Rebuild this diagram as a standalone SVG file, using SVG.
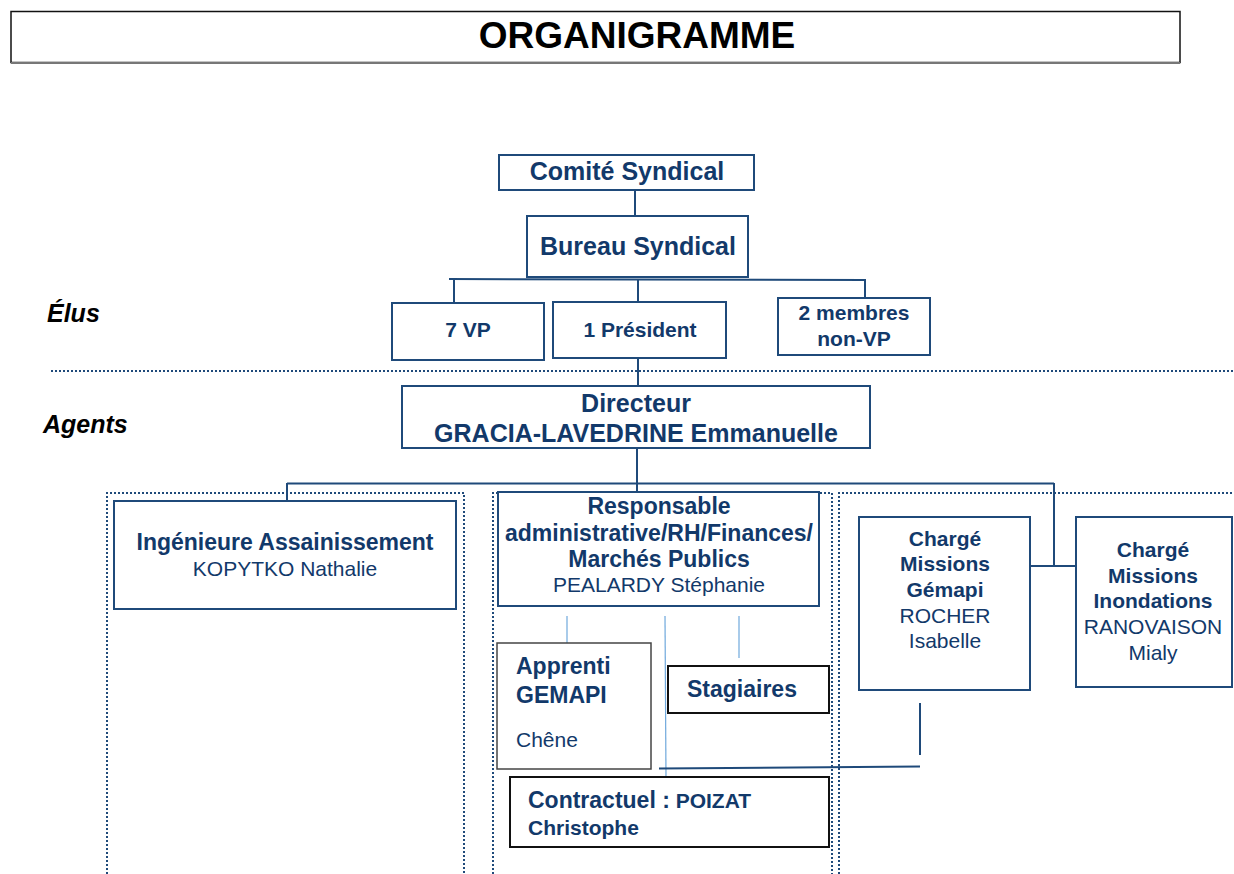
<svg xmlns="http://www.w3.org/2000/svg" width="1234" height="874" viewBox="0 0 1234 874">
<defs>
<style>
text{font-family:"Liberation Sans",Arial,sans-serif;fill:#12396a}
.b{font-weight:bold}
.c{text-anchor:middle}
.box{fill:#fff;stroke:#1f4a7a;stroke-width:2}
.blk{fill:#fff;stroke:#111;stroke-width:2}
.gry{fill:#fff;stroke:#444;stroke-width:1.5}
.ln{stroke:#1f4a7a;stroke-width:2;fill:none}
.lb{stroke:#6fa8dc;stroke-width:1.2;fill:none}
.dot{stroke:#1f4a7a;stroke-width:2;stroke-dasharray:2 2;fill:none}
.lbl{font-weight:bold;font-style:italic;fill:#000;font-size:25px}
</style>
</defs>
<rect width="1234" height="874" fill="#fff"/>
<g id="title">
<rect x="11" y="11.5" width="1169" height="51" fill="#fff" stroke="#111" stroke-width="1.5"/>
<line x1="11" y1="63" x2="1180" y2="63" stroke="#777" stroke-width="2"/>
<text x="637" y="48" class="b c" style="fill:#000;font-size:37px">ORGANIGRAMME</text>
</g>
<g id="labels">
<text x="47" y="322" class="lbl">Élus</text>
<text x="43" y="433" class="lbl">Agents</text>
<line x1="51" y1="371" x2="1234" y2="371" class="dot"/>
</g>
<g id="frames">
<path d="M107 874V493H464V874" class="dot"/>
<path d="M493 874V493H832V874" class="dot"/>
<path d="M839 874V493H1234" class="dot"/>
</g>
<g id="connectors">
<line x1="635" y1="190" x2="635" y2="216" class="ln"/>
<line x1="449" y1="279" x2="865" y2="280" class="ln"/>
<line x1="454" y1="280" x2="454" y2="303" class="ln"/>
<line x1="638" y1="280" x2="638" y2="302" class="ln"/>
<line x1="865" y1="279" x2="865" y2="298" class="ln"/>
<line x1="638" y1="359" x2="638" y2="386" class="ln"/>
<line x1="637" y1="448" x2="637" y2="492" class="ln"/>
<line x1="287" y1="483.5" x2="1054" y2="483.5" class="ln"/>
<line x1="287" y1="483" x2="287" y2="501" class="ln"/>
<line x1="1054" y1="483" x2="1054" y2="566" class="ln"/>
<line x1="1030" y1="566" x2="1076" y2="566" class="ln"/>
<line x1="567" y1="616" x2="567" y2="658" class="lb"/>
<line x1="665" y1="616" x2="666" y2="777" class="lb"/>
<line x1="739" y1="616" x2="739" y2="658" class="lb"/>
<line x1="659" y1="768.5" x2="920" y2="766.5" class="ln"/>
<line x1="920" y1="703" x2="920" y2="755" class="ln"/>
</g>
<g id="comite">
<rect x="499" y="155" width="255" height="35" class="box"/>
<text x="627" y="180" class="b c" style="font-size:25px">Comité Syndical</text>
</g>
<g id="bureau">
<rect x="527" y="216" width="221" height="61" class="box"/>
<text x="638" y="255" class="b c" style="font-size:25px">Bureau Syndical</text>
</g>
<g id="vp">
<rect x="392" y="303" width="152" height="57" class="box"/>
<text x="468" y="337" class="b c" style="font-size:21px">7 VP</text>
</g>
<g id="president">
<rect x="553" y="302" width="173" height="56" class="box"/>
<text x="640" y="337" class="b c" style="font-size:21px">1 Président</text>
</g>
<g id="membres">
<rect x="778" y="298" width="152" height="57" class="box"/>
<text x="854" y="320" class="b c" style="font-size:21px">2 membres</text>
<text x="854" y="346" class="b c" style="font-size:21px">non-VP</text>
</g>
<g id="directeur">
<rect x="402" y="386" width="468" height="62" class="box"/>
<text x="636" y="412" class="b c" style="font-size:25px">Directeur</text>
<text x="636" y="442" class="b c" style="font-size:25px">GRACIA-LAVEDRINE Emmanuelle</text>
</g>
<g id="ingenieure">
<rect x="114" y="501" width="342" height="108" class="box"/>
<text x="285" y="550" class="b c" style="font-size:23px">Ingénieure Assainissement</text>
<text x="285" y="576" class="c" style="font-size:21px">KOPYTKO Nathalie</text>
</g>
<g id="responsable">
<rect x="498" y="492" width="321" height="114" class="box"/>
<text x="659" y="514" class="b c" style="font-size:23px">Responsable</text>
<text x="659" y="541" class="b c" style="font-size:23px">administrative/RH/Finances/</text>
<text x="659" y="567" class="b c" style="font-size:23px">Marchés Publics</text>
<text x="659" y="592" class="c" style="font-size:21px">PEALARDY Stéphanie</text>
</g>
<g id="gemapi">
<rect x="859" y="517" width="171" height="173" class="box"/>
<text x="945" y="546" class="b c" style="font-size:21px">Chargé</text>
<text x="945" y="571" class="b c" style="font-size:21px">Missions</text>
<text x="945" y="597" class="b c" style="font-size:21px">Gémapi</text>
<text x="945" y="623" class="c" style="font-size:21px">ROCHER</text>
<text x="945" y="648" class="c" style="font-size:21px">Isabelle</text>
</g>
<g id="inondations">
<rect x="1076" y="517" width="156" height="170" class="box"/>
<text x="1153" y="557" class="b c" style="font-size:21px">Chargé</text>
<text x="1153" y="583" class="b c" style="font-size:21px">Missions</text>
<text x="1153" y="608" class="b c" style="font-size:21px">Inondations</text>
<text x="1153" y="634" class="c" style="font-size:21px">RANOVAISON</text>
<text x="1153" y="660" class="c" style="font-size:21px">Mialy</text>
</g>
<g id="apprenti">
<rect x="497" y="643" width="154" height="126" class="gry"/>
<text x="516" y="674" class="b" style="font-size:23px">Apprenti</text>
<text x="516" y="703" class="b" style="font-size:23px">GEMAPI</text>
<text x="516" y="747" style="font-size:21px">Chêne</text>
</g>
<g id="stagiaires">
<rect x="668" y="666" width="161" height="47" class="blk"/>
<text x="687" y="697" class="b" style="font-size:23px">Stagiaires</text>
</g>
<g id="contractuel">
<rect x="510" y="777" width="319" height="70" class="blk"/>
<text x="528" y="808" class="b"><tspan style="font-size:23px">Contractuel :</tspan><tspan style="font-size:21px"> POIZAT</tspan></text>
<text x="528" y="835" class="b" style="font-size:21px">Christophe</text>
</g>
</svg>
